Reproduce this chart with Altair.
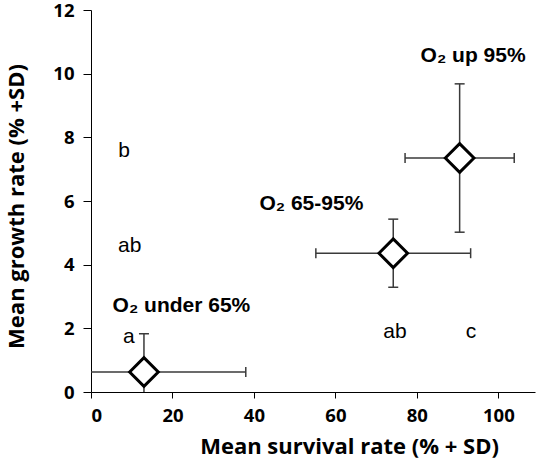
import altair as alt
import pandas as pd

# Mean survival / growth per oxygen class, with standard deviations
groups = ["O2 under 65%", "O2 65-95%", "O2 up 95%"]
survival_mean = [13.0, 74.2, 90.5]
survival_sd = [25.0, 19.0, 13.4]
growth_mean = [0.63, 4.36, 7.35]
growth_sd = [1.20, 1.07, 2.33]

# Group labels (bold) and significance letters
label_text = ["O\u2082 under 65%", "O\u2082 65-95%", "O\u2082 up 95%"]
label_x = [22.2, 54.1, 93.8]
label_y = [2.52, 5.72, 10.38]

letter_text = ["b", "ab", "a", "ab", "c"]
letter_x = [8.1, 9.5, 9.3, 74.6, 93.3]
letter_y = [7.37, 4.41, 1.55, 1.70, 1.70]

x_ticks = [0, 20, 40, 60, 80, 100]
y_ticks = [0, 2, 4, 6, 8, 10, 12]

df = pd.DataFrame({
    "group": groups,
    "sx": survival_mean,
    "sxd": survival_sd,
    "gy": growth_mean,
    "gyd": growth_sd,
})
df["x_lo"] = (df["sx"] - df["sxd"]).clip(lower=0)
df["x_hi"] = df["sx"] + df["sxd"]
df["y_lo"] = (df["gy"] - df["gyd"]).clip(lower=0)
df["y_hi"] = df["gy"] + df["gyd"]

# caps only where the bar is not cut off by the axis
caps_x = pd.concat([
    df.loc[df["sx"] - df["sxd"] >= 0, ["gy"]].assign(cx=df["x_lo"]),
    df[["gy"]].assign(cx=df["x_hi"]),
])
caps_y = pd.concat([
    df.loc[df["gy"] - df["gyd"] >= 0, ["sx"]].assign(cy=df["y_lo"]),
    df[["sx"]].assign(cy=df["y_hi"]),
])

labels = pd.DataFrame({"t": label_text, "x": label_x, "y": label_y})
letters = pd.DataFrame({"t": letter_text, "x": letter_x, "y": letter_y})

xs = alt.Scale(domain=[0, 109], nice=False, zero=False)
ys = alt.Scale(domain=[0, 12], nice=False, zero=False)

bar_color = "#3a3a3a"
axis_font = "Open Sans"

x_axis = alt.Axis(
    values=x_ticks, grid=False, domainColor="black", tickColor="black",
    tickSize=6, labelFont=axis_font, labelFontWeight="bold", labelFontSize=18.5,
    labelColor="black", labelPadding=8,
    titleFont=axis_font, titleFontWeight="bold", titleFontSize=22, titleColor="black",
    titleX=258, titleY=61, titleBaseline="alphabetic",
)
y_axis = alt.Axis(
    values=y_ticks, grid=False, domainColor="black", tickColor="black",
    tickSize=8, labelFont=axis_font, labelFontWeight="bold", labelFontSize=18.5,
    labelColor="black", labelPadding=9,
    titleFont=axis_font, titleFontWeight="bold", titleFontSize=22, titleColor="black",
    titleX=-68, titleY=196, titleBaseline="alphabetic", titleAngle=-90,
    titleAlign="center",
)

hbars = alt.Chart(df).mark_rule(color=bar_color, strokeWidth=1.5).encode(
    x=alt.X("x_lo:Q", scale=xs, axis=x_axis, title="Mean survival rate (% + SD)"),
    x2="x_hi:Q",
    y=alt.Y("gy:Q", scale=ys, axis=y_axis, title="Mean growth rate (% +SD)"),
)
vbars = alt.Chart(df).mark_rule(color=bar_color, strokeWidth=1.5).encode(
    x=alt.X("sx:Q", scale=xs),
    y=alt.Y("y_lo:Q", scale=ys),
    y2="y_hi:Q",
)
xcaps = alt.Chart(caps_x).mark_rule(
    color=bar_color, strokeWidth=1.5, yOffset=-5, y2Offset=5
).encode(
    x=alt.X("cx:Q", scale=xs),
    y=alt.Y("gy:Q", scale=ys),
    y2="gy:Q",
)
ycaps = alt.Chart(caps_y).mark_rule(
    color=bar_color, strokeWidth=1.5, xOffset=-5, x2Offset=5
).encode(
    x=alt.X("sx:Q", scale=xs),
    x2="sx:Q",
    y=alt.Y("cy:Q", scale=ys),
)
points = alt.Chart(df).mark_point(
    shape="diamond", filled=True, fill="white", stroke="black",
    strokeWidth=3, size=820, opacity=1,
).encode(
    x=alt.X("sx:Q", scale=xs),
    y=alt.Y("gy:Q", scale=ys),
)
label_layer = alt.Chart(labels).mark_text(
    font="Liberation Sans", fontWeight="bold", fontSize=21, color="black",
    align="center", baseline="alphabetic",
).encode(x=alt.X("x:Q", scale=xs), y=alt.Y("y:Q", scale=ys), text="t:N")
letter_layer = alt.Chart(letters).mark_text(
    font="Liberation Sans", fontSize=21, color="black",
    align="center", baseline="alphabetic",
).encode(x=alt.X("x:Q", scale=xs), y=alt.Y("y:Q", scale=ys), text="t:N")

chart = alt.layer(
    hbars, vbars, xcaps, ycaps, points, label_layer, letter_layer
).properties(
    width=444, height=382,
    autosize=alt.AutoSizeParams(type="none"),
    padding={"left": 91, "top": 10, "right": 6, "bottom": 82},
    background="white",
).configure_view(stroke=None)

chart.save("out.html", embed_options={"renderer": "svg", "actions": False})
